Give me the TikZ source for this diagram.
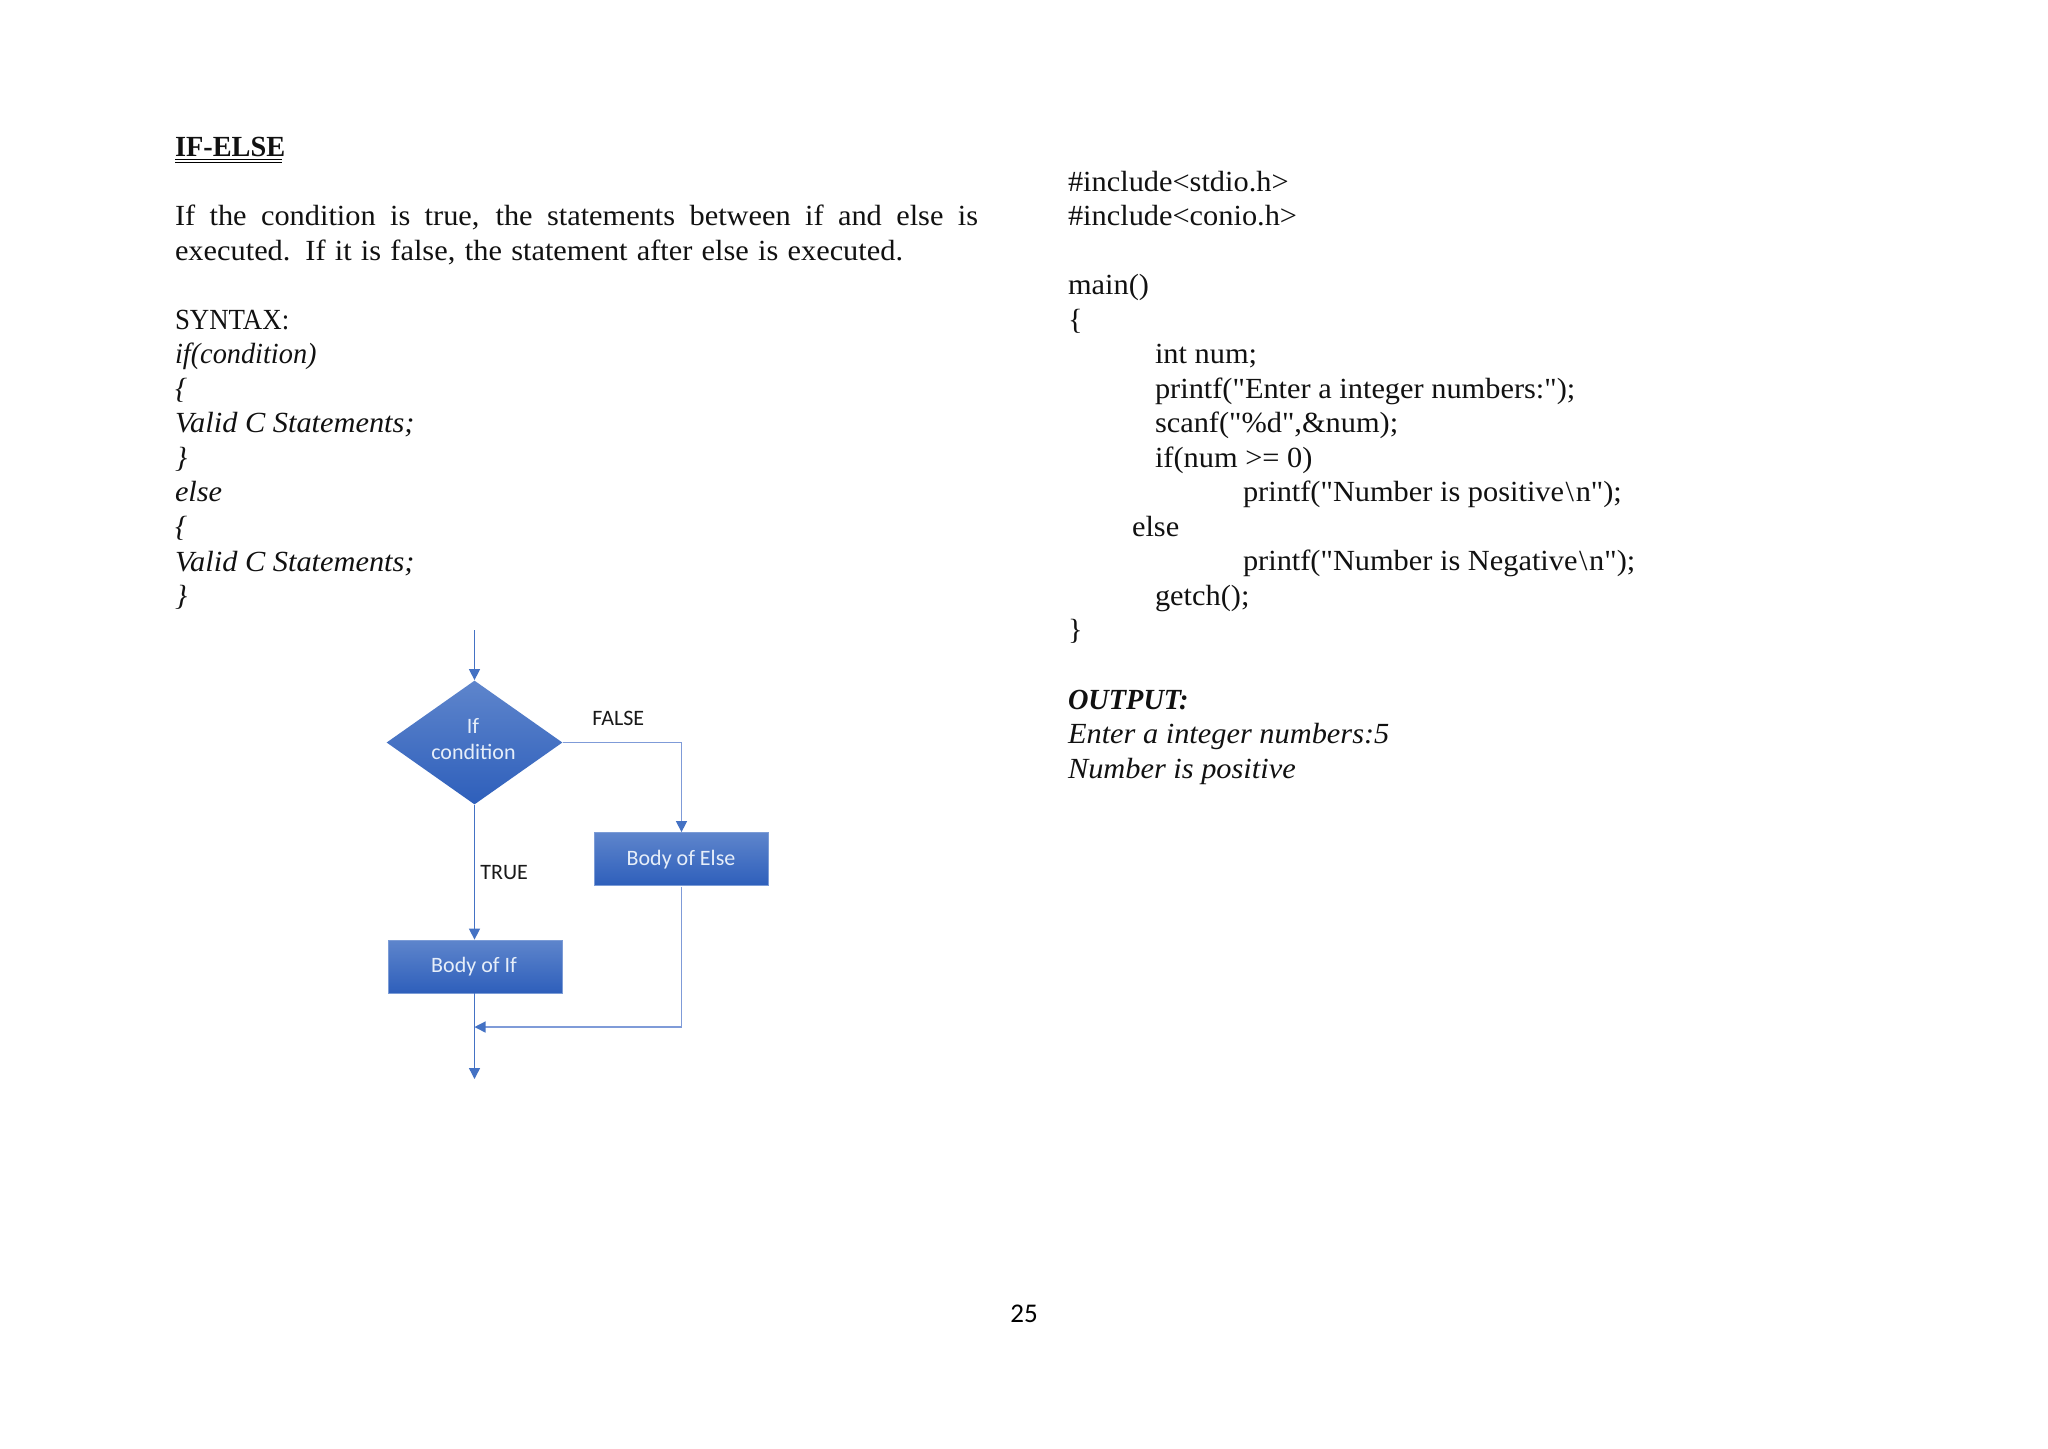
\documentclass[tikz,border=0pt]{standalone}
\usepackage{fontspec}
\usetikzlibrary{shapes.geometric,arrows.meta,calc}
\setmainfont{Liberation Serif}[FakeStretch=1.04,Ligatures=TeXOff]
\newfontfamily\heavyfont{Liberation Serif}[FakeStretch=0.97,Ligatures=TeXOff]
\newfontfamily\slimfont{Liberation Serif}[FakeStretch=0.92,Ligatures=TeXOff]
\newfontfamily\flowfont{Carlito}
\definecolor{flowline}{HTML}{4472C4}
\definecolor{flowpale}{HTML}{7F9BD8}
\definecolor{flowtop}{HTML}{5E85CC}
\definecolor{flowbot}{HTML}{2E5FBB}
\definecolor{flowtext}{HTML}{E6EEF9}
\definecolor{inktext}{HTML}{111111}
\newcommand{\bsl}{\kern0.8pt\textbackslash\kern0.8pt}
\tikzset{
  txt/.style={anchor=base west,inner sep=0pt,outer sep=0pt,text=inktext,font=\fontsize{14.6}{17}\selectfont},
  itxt/.style={txt,font=\fontsize{14.6}{17}\selectfont\itshape},
  flowbox/.style={rectangle,draw=flowline!70!white,line width=0.4pt,top color=flowtop,bottom color=flowbot,inner sep=0pt,minimum width=87pt,minimum height=26.5pt},
  flowdia/.style={diamond,top color=flowtop,bottom color=flowbot,inner sep=0pt,minimum width=88pt,minimum height=62pt},
  flowlabel/.style={anchor=base,inner sep=0pt,text=flowtext,font=\flowfont\fontsize{11}{13}\selectfont},
  edgelabel/.style={anchor=base west,inner sep=0pt,text=black!90,font=\flowfont\fontsize{11}{13}\selectfont},
  conn/.style={draw=flowline,line width=0.65pt,-{Triangle[length=5.5pt,width=5.5pt,color=flowline]}},
  paleconn/.style={draw=flowpale,line width=0.65pt,-{Triangle[length=5.5pt,width=5.5pt,color=flowline]}},
}
\begin{document}
\begin{tikzpicture}[x=0.5pt,y=-0.5pt]
\useasboundingbox[fill=white] (0,0) rectangle (2048,1448);
% left column
\node[txt,font=\heavyfont\fontsize{14.6}{17}\selectfont\bfseries] (title) at (175,156) {IF-ELSE};
\draw[line width=0.6pt,black] (title.south west)++(0,3.5) -- ++(107,0);
\draw[line width=0.6pt,black] (title.south west)++(0,6) -- ++(107,0);
\node[txt] (p1) at (175,225.5) {\makebox[401.5pt][s]{If the condition is true, the statements between if and else is}};
\node[txt] (p2) at (175,260) {\makebox[364pt][s]{executed. If it is false, the statement after else is executed.}};
\node[txt,font=\slimfont\fontsize{14.6}{17}\selectfont] (s0) at (175,329.2) {SYNTAX:};
\node[itxt,font=\heavyfont\fontsize{14.6}{17}\selectfont\itshape] (s1) at (175,363.7) {if(condition)};
\node[itxt] (s2) at (175,398.3) {\{};
\node[itxt] (s3) at (175,432.8) {Valid C Statements;};
\node[itxt] (s4) at (175,467.4) {\}};
\node[itxt] (s5) at (175,501.9) {else};
\node[itxt] (s6) at (175,536.5) {\{};
\node[itxt] (s7) at (175,571) {Valid C Statements;};
\node[itxt] (s8) at (175,605.5) {\}};
% right column
\node[txt] (r0) at (1068,191) {\#include<stdio.h>};
\node[txt] (r1) at (1068,225.5) {\#include<conio.h>};
\node[txt] (r3) at (1068,294.6) {main()};
\node[txt] (r4) at (1068,329.1) {\{};
\node[txt] (r5) at (1155,363.7) {int num;};
\node[txt] (r6) at (1155,398.2) {printf("Enter a integer numbers:");};
\node[txt] (r7) at (1155,432.7) {scanf("\%d",\&num);};
\node[txt] (r8) at (1155,467.2) {if(num >= 0)};
\node[txt] (r9) at (1243,501.8) {printf("Number is positive\bsl n");};
\node[txt] (r10) at (1132,536.3) {else};
\node[txt] (r11) at (1243,570.8) {printf("Number is Negative\bsl n");};
\node[txt] (r12) at (1155,605.4) {getch();};
\node[txt] (r13) at (1068,639.9) {\}};
\node[txt,font=\heavyfont\fontsize{14.6}{17}\selectfont\bfseries\itshape] (r15) at (1068,709) {OUTPUT:};
\node[itxt] (r16) at (1068,743.5) {Enter a integer numbers:5};
\node[itxt] (r17) at (1068,778) {Number is positive};
% page number
\node[anchor=base,inner sep=0pt,font=\flowfont\fontsize{13.5}{16}\selectfont] (page) at (1024,1322) {25};
% flowchart
\coordinate (start) at (474.5,630);
\node[flowdia] (cond) at (474.5,742.5) {};
\node[flowlabel] (condA) at (473,733) {If};
\node[flowlabel] (condB) at (473.5,759) {condition};
\node[flowbox] (belse) at (681.5,859) {};
\node[flowlabel] (belseT) at (681,865) {Body of Else};
\node[flowbox] (bif) at (475.5,966.5) {};
\node[flowlabel] (bifT) at (474,972) {Body of If};
\coordinate (merge) at (474.5,1027);
\coordinate (stop) at (474.5,1079);
\node[edgelabel] (lfalse) at (592,725) {FALSE};
\node[edgelabel] (ltrue) at (480,879) {TRUE};
\draw[conn] (start) -- (cond.north);
\draw[paleconn] (cond.east) -| (belse.north);
\draw[conn] (cond.south) -- (cond.south |- bif.north);
\draw[conn] (cond.south |- bif.south) -- (stop);
\draw[paleconn] (belse.south) ++(0,1.5) |- (merge);
\end{tikzpicture}
\end{document}
